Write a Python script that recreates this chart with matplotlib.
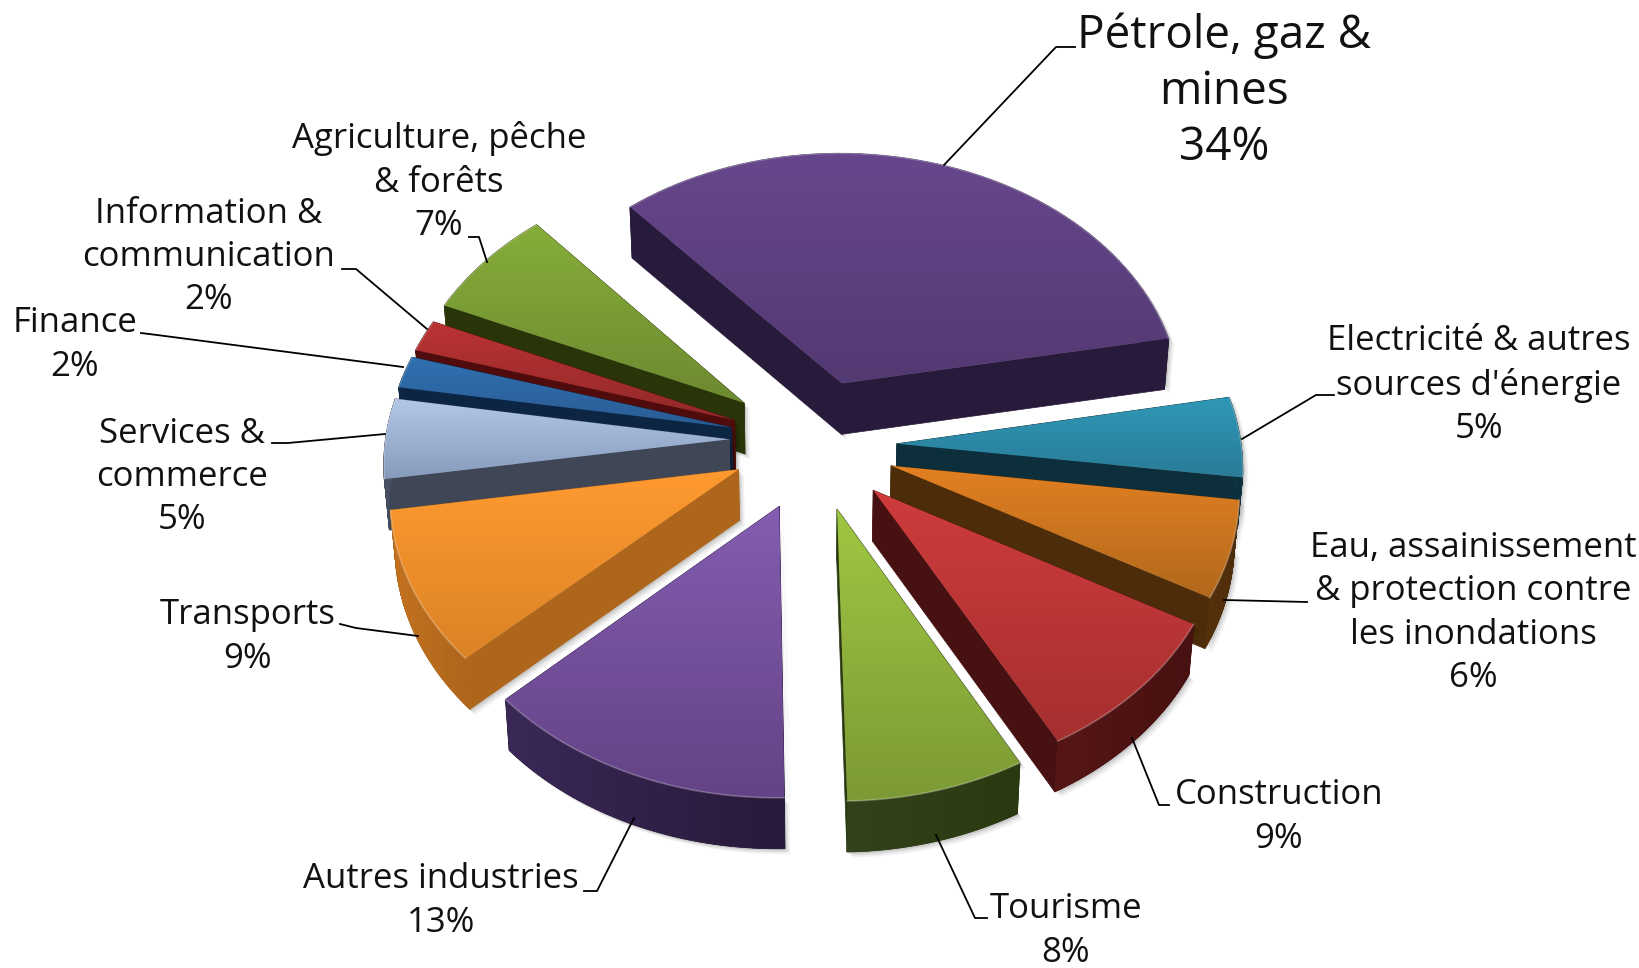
import numpy as np
import matplotlib
matplotlib.use('Agg')
import matplotlib.pyplot as plt
from matplotlib.patches import Polygon
from matplotlib.colors import to_rgb

# parts du secteur, dans le sens horaire depuis le bord gauche de Pétrole
sectors = ['Pétrole, gaz &\nmines', "Electricité & autres\nsources d'énergie",
           'Eau, assainissement\n& protection contre\nles inondations', 'Construction', 'Tourisme',
           'Autres industries', 'Transports', 'Services &\ncommerce', 'Finance',
           'Information &\ncommunication', 'Agriculture, pêche\n& forêts']
shares = [33.51, 5, 6, 9, 7.6, 13.4, 9.49, 5, 2, 2, 7]
explode = [96, 86, 86, 83, 80, 80, 80, 82, 82, 82, 84]
# petit decalage du sommet de chaque part
shift_x = [0, 0, -2, 3, 5, 0, 0, 0, 0, 0, 0]
shift_y = [0, 6, 6, 6, 0, 0, 9, 14, 12, 12, 14]

top_light = ['#67478c', '#2f98b7', '#e28022', '#cf3c3c', '#9fc741', '#845db0', '#ff9a30', '#b3c7e7', '#3070b0', '#bb3333', '#86ad3a']
top_dark = ['#533972', '#2a7c98', '#b2681c', '#a52f2f', '#7b9a35', '#634385', '#dc8326', '#879bbd', '#2a5c96', '#922929', '#6d8a30']
wall_light = ['#2e1f43', '#0f3a49', '#57320b', '#561616', '#32421a', '#3a2857', '#c4721f', '#4b5465', '#0f2d50', '#5e0f0f', '#303e11']
wall_dark = ['#281a3a', '#0c2f3b', '#4c2c09', '#481111', '#2b3910', '#281a3a', '#ad661c', '#3f4757', '#0c2542', '#500c0c', '#293509']

# centre du bloc de texte de chaque etiquette
label_x = [1224, 1479, 1473, 1279, 1066, 441, 248, 182, 75, 209, 439]
label_y = [92, 385, 613, 817, 931, 901, 637, 477, 345, 257, 182]
label_size = [33, 25, 25, 25, 25, 25, 25, 25, 25, 25, 25]
label_spacing = [1.28, 1.36, 1.36, 1.36, 1.36, 1.36, 1.36, 1.36, 1.36, 1.36, 1.36]

leaders = [[(1075, 47), (1056, 47), (944, 165)],
           [(1334, 395), (1316, 395), (1242, 439)],
           [(1307, 602), (1224, 600)],
           [(1169, 805), (1159, 805), (1132, 738)],
           [(987, 918), (975, 918), (936, 835)],
           [(584, 891), (597, 891), (634, 818)],
           [(340, 624), (356, 628), (418, 636)],
           [(272, 443), (288, 443), (385, 434)],
           [(141, 333), (157, 335), (403, 367)],
           [(342, 269), (356, 269), (427, 329)],
           [(469, 237), (479, 237), (487, 262)]]

start_angle = 131.2
cx, cy = 811, 450
radius = 345
tilt = 0.75
persp = 0.000232
depth = 51
converge = 0.012

plt.rcParams['font.family'] = ['Open Sans', 'DejaVu Sans']
fig = plt.figure(figsize=(16.4, 9.68), dpi=100)
ax = fig.add_axes([0, 0, 1, 1])
z = [1]


def project(X, Y):
    s = 1 / (1 + persp * np.asarray(Y))
    return cx + np.asarray(X) * s, cy - tilt * np.asarray(Y) * s


def fill_gradient(verts, c0, c1, horizontal=False):
    patch = Polygon(verts, closed=True, fc='none', ec='none')
    ax.add_patch(patch)
    t = np.linspace(0, 1, 64)[:, None]
    img = (1 - t) * np.array(to_rgb(c0)) + t * np.array(to_rgb(c1))
    img = img[None, :, :] if horizontal else img[:, None, :]
    xmin, ymin = verts.min(axis=0)
    xmax, ymax = verts.max(axis=0)
    im = ax.imshow(img, extent=(xmin, xmax, ymax, ymin), aspect='auto', zorder=z[0])
    im.set_clip_path(patch)
    z[0] += 1


def draw_wedge(i, a0, a1):
    mid = np.radians((a0 + a1) / 2)
    ax0 = explode[i] * np.cos(mid) + shift_x[i]
    ay0 = explode[i] * np.sin(mid) + shift_y[i]
    th = np.radians(np.linspace(a0, a1, 60))
    X = np.r_[ax0, ax0 + radius * np.cos(th)]
    Y = np.r_[ay0, ay0 + radius * np.sin(th)]
    px, py = project(X, Y)
    top = np.c_[px, py]
    # les verticales convergent un peu vers le centre
    low = np.c_[px + (cx - px) * converge, py + depth]
    # ombre legere sous le volume
    for off, al in [(9, 0.05), (6, 0.07), (3, 0.1)]:
        hull = np.r_[top, low[::-1]] + [off * 0.6, off * 0.6]
        ax.add_patch(Polygon(hull, closed=True, fc='#000000', ec='none', alpha=al, zorder=z[0]))
    z[0] += 1
    # faces laterales, puis le dessus par-dessus
    n = len(top)
    for j in range(n):
        k = (j + 1) % n
        face = np.array([top[j], top[k], low[k], low[j]])
        ax.add_patch(Polygon(face, closed=True, fc=wall_dark[i], ec=wall_dark[i], lw=0.5, zorder=z[0]))
    z[0] += 1
    arc = np.r_[top[1:], low[1:][::-1]]
    if np.sin(mid) < 0.2:
        fill_gradient(arc, wall_light[i], wall_dark[i], horizontal=True)
    fill_gradient(top, top_light[i], top_dark[i])
    rim = np.array(top[1:])
    ax.plot(rim[:, 0], rim[:, 1], color='white', alpha=0.25, lw=1.2, zorder=z[0])
    z[0] += 1


angles = start_angle - np.r_[0, np.cumsum(shares)] * 3.6
mids = (angles[:-1] + angles[1:]) / 2
order = np.argsort(-np.sin(np.radians(mids)))
for i in order:
    draw_wedge(i, angles[i], angles[i + 1])

for pts in leaders:
    pts = np.array(pts)
    ax.plot(pts[:, 0], pts[:, 1], color='black', lw=1.3, zorder=z[0])

for name, v, x, y, fs, ls in zip(sectors, shares, label_x, label_y, label_size, label_spacing):
    ax.text(x, y, f'{name}\n{v:.0f}%', ha='center', va='center', fontsize=fs, linespacing=ls,
            color='#111111', zorder=z[0] + 1)

ax.set_xlim(0, 1640)
ax.set_ylim(968, 0)
ax.axis('off')
fig.savefig('out.png', dpi=100, facecolor='white')
